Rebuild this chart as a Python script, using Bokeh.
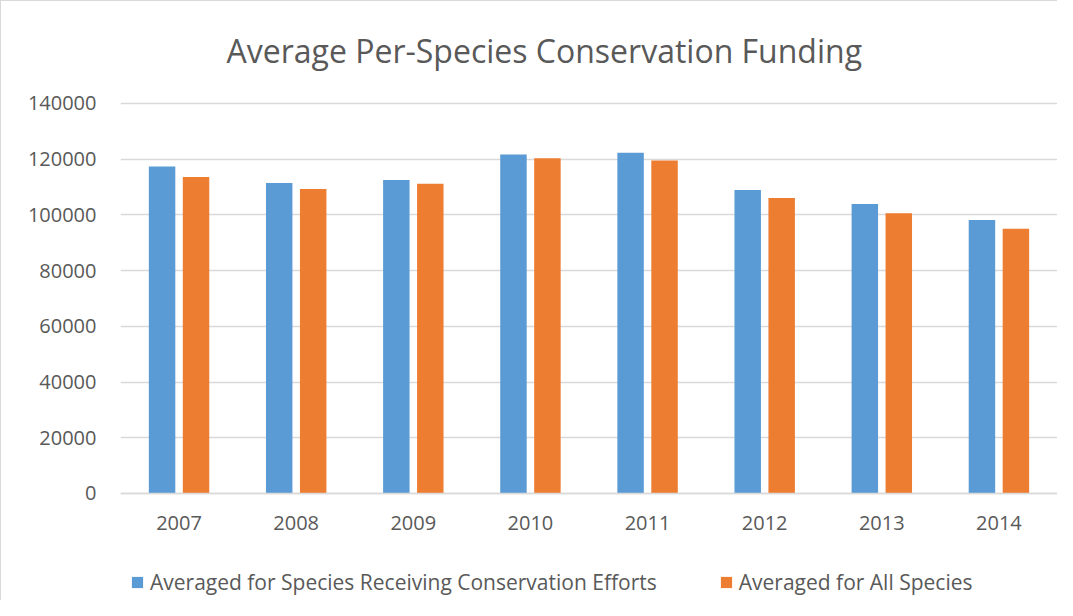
from bokeh.plotting import figure
from bokeh.models import Range1d, FactorRange, Legend, LegendItem, Label, ColumnDataSource, FixedTicker
from bokeh.transform import dodge
from bokeh.embed import file_html
from bokeh.resources import INLINE

years = ["2007", "2008", "2009", "2010", "2011", "2012", "2013", "2014"]
receiving = [117360, 111480, 112550, 121680, 122280, 108950, 103960, 98200]
all_species = [113630, 109320, 111220, 120360, 119520, 106070, 100600, 95080]
y_ticks = [0, 20000, 40000, 60000, 80000, 100000, 120000, 140000]
series_names = ["Averaged for Species Receiving Conservation Efforts", "Averaged for All Species"]
title_text = "Average Per-Species Conservation Funding"

BLUE = "#5B9BD5"
ORANGE = "#ED7D31"
TXT = "#595959"
GRID = "#D9D9D9"
FONT = "Open Sans"

src = ColumnDataSource(dict(year=years, rec=receiving, alls=all_species))

# frame spans the full height so title, category labels and legend sit inside it
p = figure(width=1057, height=600, x_range=FactorRange(*years), y_range=Range1d(-38770, 176615),
           output_backend="svg", toolbar_location=None,
           min_border_left=119, min_border_right=1, min_border_top=0, min_border_bottom=0)
p.outline_line_color = None
p.background_fill_color = "white"
p.border_fill_color = "white"
p.styles = {"border-top": "1px solid #d9d9d9", "border-left": "1px solid #d9d9d9"}

r1 = p.vbar(x=dodge("year", -0.145, range=p.x_range), top="rec", width=0.226, source=src,
            fill_color=BLUE, line_color=None)
r2 = p.vbar(x=dodge("year", 0.145, range=p.x_range), top="alls", width=0.226, source=src,
            fill_color=ORANGE, line_color=None)

p.yaxis.ticker = FixedTicker(ticks=y_ticks)
p.yaxis.formatter.use_scientific = False
p.xaxis.fixed_location = 0
for ax in (p.xaxis, p.yaxis):
    ax.major_tick_line_color = None
    ax.minor_tick_line_color = None
    ax.major_label_text_font = FONT
    ax.major_label_text_font_size = "20px"
    ax.major_label_text_color = TXT
p.yaxis.axis_line_color = None
p.yaxis.major_label_standoff = 18
p.xaxis.axis_line_color = GRID
p.xaxis.axis_line_width = 1.5
p.xaxis.major_label_standoff = 17
p.xgrid.grid_line_color = None
p.ygrid.grid_line_color = GRID
p.ygrid.grid_line_width = 1.5

legend = Legend(items=[LegendItem(label=series_names[0], renderers=[r1]),
                       LegendItem(label=series_names[1], renderers=[r2])],
                orientation="horizontal", location=(10, 5))
legend.glyph_width = 14
legend.glyph_height = 14
legend.label_standoff = 6
legend.spacing = 62
legend.padding = 0
legend.margin = 0
legend.border_line_color = None
legend.background_fill_alpha = 0
legend.label_text_font = FONT
legend.label_text_font_size = "21px"
legend.label_text_color = TXT
p.add_layout(legend, "center")

title = Label(x=106, y=551, x_units="screen", y_units="screen", text=title_text,
              text_align="left", text_baseline="alphabetic",
              text_font=FONT, text_font_size="32px", text_color=TXT)
p.add_layout(title)

open("out.html", "w").write(file_html(p, INLINE))
